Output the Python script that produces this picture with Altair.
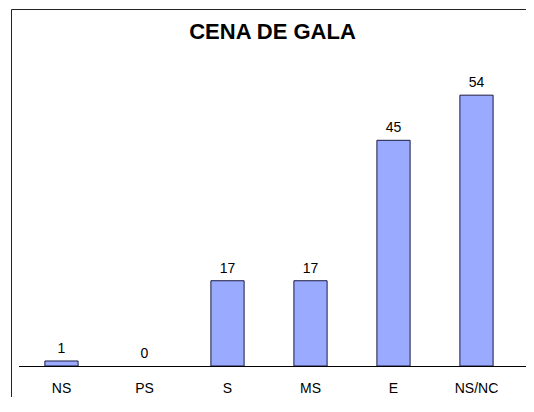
import altair as alt
import pandas as pd

categories = ["NS", "PS", "S", "MS", "E", "NS/NC"]
values = [1, 0, 17, 17, 45, 54]
title_text = "CENA DE GALA"

df = pd.DataFrame({"cat": categories, "val": values})
one = pd.DataFrame({"k": [0]})

W, H = 498, 326
FONT = "Liberation Sans"

xscale = alt.Scale(paddingInner=0.6, paddingOuter=0.3)
xenc = alt.X("cat:N", sort=categories, scale=xscale, axis=None)
yenc = alt.Y("val:Q", scale=alt.Scale(domain=[0, 65], nice=False, zero=True), axis=None)

base = alt.Chart(df)

bars = base.transform_filter("datum.val > 0").mark_bar(
    fill="#9AABFF", stroke="#1a1a40", strokeWidth=1).encode(x=xenc, y=yenc)

labels = base.mark_text(font=FONT, fontSize=14, color="black", baseline="alphabetic", dy=-8).encode(
    x=xenc, y=yenc, text="val:Q")

cat_labels = base.mark_text(font=FONT, fontSize=14, color="black", baseline="alphabetic").encode(
    x=xenc, y=alt.value(H + 27), text="cat:N")

baseline = alt.Chart(one).mark_rule(color="black", strokeWidth=1).encode(
    x=alt.value(-1), x2=alt.value(520), y=alt.value(H + 0.5))

frame_left = alt.Chart(one).mark_rule(color="#222222", strokeWidth=1).encode(
    x=alt.value(-8.5), y=alt.value(-30.5), y2=alt.value(400))
frame_top = alt.Chart(one).mark_rule(color="#222222", strokeWidth=1).encode(
    x=alt.value(-8.5), x2=alt.value(520), y=alt.value(-30.5))

title = alt.Chart(one).mark_text(font=FONT, fontSize=22, fontWeight="bold", color="black",
                                  baseline="alphabetic", align="center").encode(
    x=alt.value(252.5), y=alt.value(-1), text=alt.value(title_text))

chart = alt.layer(bars, labels, cat_labels, baseline, frame_left, frame_top, title).properties(
    width=W, height=H,
    autosize=alt.AutoSizeParams(type="none"),
    padding={"left": 12, "top": 32, "right": 8, "bottom": 31},
    background="white",
).configure_view(strokeWidth=0, stroke="transparent")

chart.save("out.html", embed_options={"renderer": "svg", "actions": False})
